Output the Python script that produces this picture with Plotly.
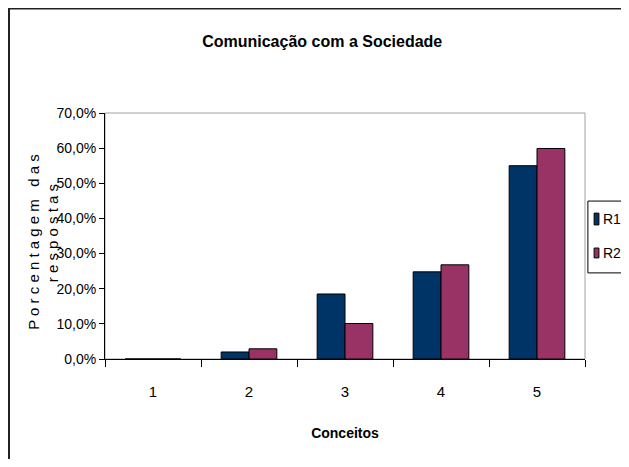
import plotly.graph_objects as go

# data
conceitos = ["1", "2", "3", "4", "5"]
r1 = [0.0, 0.020, 0.185, 0.248, 0.550]
r2 = [0.0, 0.029, 0.101, 0.268, 0.599]
y_ticks = [0.0, 0.1, 0.2, 0.3, 0.4, 0.5, 0.6, 0.7]
series_names = ["R1", "R2"]
series_colors = ["#003366", "#993366"]

fnt = "Liberation Sans Narrow, Arial Narrow, Liberation Sans, Arial"

fig = go.Figure()
for name, vals, col in zip(series_names, [r1, r2], series_colors):
    fig.add_trace(go.Bar(x=conceitos, y=vals, name=name,
                         marker=dict(color=col, line=dict(color="black", width=1))))

# page body has an 8px margin, the visible area stops around x=621
fig.update_layout(
    width=621, height=451,
    paper_bgcolor="white", plot_bgcolor="white",
    margin=dict(l=97, r=44, t=105, b=100, autoexpand=False),
    separators=",.",
    barmode="group", bargap=0.42, bargroupgap=0,
    font=dict(family=fnt, size=14, color="black"),
    title=dict(text="<b>Comunicação com a Sociedade</b>", x=0.506, xanchor="center",
               y=0.925, yanchor="middle", font=dict(size=16, family=fnt)),
    showlegend=False,
)

fig.update_xaxes(type="category", showline=True, linecolor="black", linewidth=1,
                 ticks="outside", tickson="boundaries", ticklen=7, tickcolor="black",
                 showgrid=False, tickfont=dict(size=15), ticklabelstandoff=19,
                 title=dict(text="<b>Conceitos</b>", font=dict(size=14), standoff=29))
fig.update_yaxes(range=[0, 0.7], tickvals=y_ticks, tickformat=".1%",
                 showline=True, linecolor="black", linewidth=1,
                 ticks="outside", ticklen=5, tickcolor="black",
                 showgrid=False, zeroline=False, tickfont=dict(size=14))

# plot area border (grey, top and right)
fig.add_shape(type="rect", xref="paper", yref="paper", x0=0, x1=1, y0=0, y1=1,
              line=dict(color="#a0a0a0", width=1), layer="below")
# outer chart border
fig.add_shape(type="rect", xref="paper", yref="paper", x0=-0.2, x1=1.3, y0=-0.6, y1=1.425,
              line=dict(color="#222222", width=2), layer="below")

# y axis title, spaced letters, two lines
fig.add_annotation(text="P o r c e n t a g e m   d a s",
                   xref="paper", yref="paper", x=-0.148, y=0.476, textangle=-90,
                   showarrow=False, font=dict(size=15, family=fnt),
                   xanchor="center", yanchor="middle")
fig.add_annotation(text="r e s p o s t a s",
                   xref="paper", yref="paper", x=-0.110, y=0.512, textangle=-90,
                   showarrow=False, font=dict(size=15, family=fnt),
                   xanchor="center", yanchor="middle")

# legend box drawn by hand, nudged left so the labels stay visible
fig.add_shape(type="rect", xref="paper", yref="paper", x0=1.006, x1=1.3, y0=0.350, y1=0.642,
              line=dict(color="black", width=1), fillcolor="white")
sq_y = [(0.545, 0.593), (0.411, 0.451)]
txt_y = [0.569, 0.431]
for name, col, (y0, y1), ty in zip(series_names, series_colors, sq_y, txt_y):
    fig.add_shape(type="rect", xref="paper", yref="paper", x0=1.019, x1=1.029, y0=y0, y1=y1,
                  line=dict(color="black", width=1), fillcolor=col)
    fig.add_annotation(text=name, xref="paper", yref="paper", x=1.033, y=ty,
                       xanchor="left", yanchor="middle", showarrow=False,
                       font=dict(size=14, family=fnt))

fig.write_html("out.html")
